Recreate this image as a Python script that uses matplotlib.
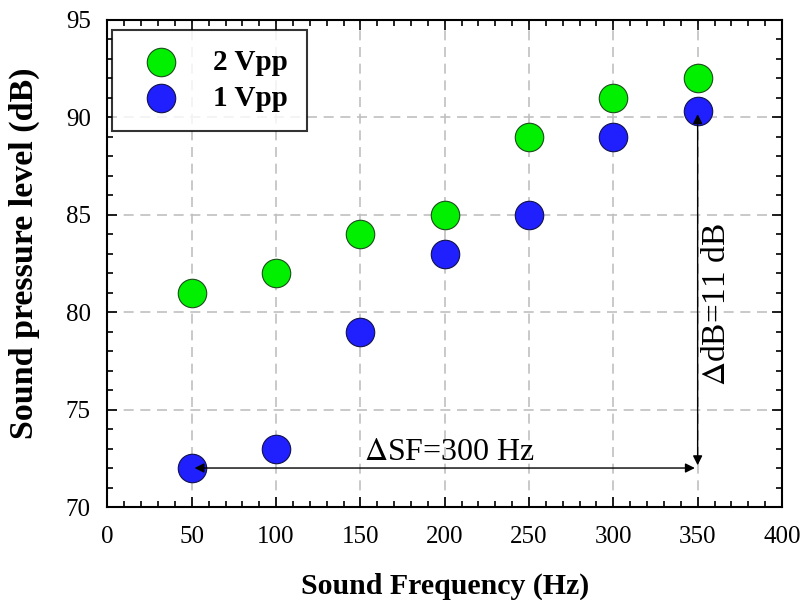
import matplotlib.pyplot as plt
from matplotlib.ticker import MultipleLocator

plt.rcParams['font.family'] = ['Liberation Serif', 'DejaVu Serif']
plt.rcParams['mathtext.fontset'] = 'stix'

# data
freq = [50, 100, 150, 200, 250, 300, 350]
spl_2vpp = [81, 82, 84, 85, 89, 91, 92]
spl_1vpp = [72, 73, 79, 83, 85, 89, 90.3]

fig, ax = plt.subplots(figsize=(8.02, 6), dpi=100)
fig.subplots_adjust(left=0.134, right=0.975, top=0.967, bottom=0.155)

ax.scatter(freq, spl_2vpp, s=420, color='#00f000', edgecolor='#1a4d1a', linewidth=0.8,
           zorder=3, label='2 Vpp')
ax.scatter(freq, spl_1vpp, s=420, color='#2020ff', edgecolor='#10104d', linewidth=0.8,
           zorder=3, label='1 Vpp')

ax.set_xlim(0, 400)
ax.set_ylim(70, 95)
ax.xaxis.set_major_locator(MultipleLocator(50))
ax.xaxis.set_minor_locator(MultipleLocator(10))
ax.yaxis.set_major_locator(MultipleLocator(5))
ax.yaxis.set_minor_locator(MultipleLocator(1))
ax.tick_params(which='both', direction='in', top=True, right=True, width=1.2)
ax.tick_params(which='major', length=7, labelsize=18)
ax.tick_params(which='minor', length=4)
ax.tick_params(axis='x', which='major', pad=14)
ax.tick_params(axis='y', which='major', pad=12)
for sp in ax.spines.values():
    sp.set_linewidth(1.5)

ax.grid(True, which='major', linestyle=(0, (6, 4)), color='#c0c0c0', linewidth=1.2)
ax.set_axisbelow(True)

ax.set_xlabel('Sound Frequency (Hz)', fontsize=21.5, fontweight='bold')
ax.set_ylabel('Sound pressure level (dB)', fontsize=24.5, fontweight='bold')
ax.xaxis.set_label_coords(0.5, -0.134)
ax.yaxis.set_label_coords(-0.1, 0.52)

# annotation arrows
ax.annotate('', xy=(50, 72), xytext=(350, 72),
            arrowprops=dict(arrowstyle='<|-|>', color='black', lw=1, mutation_scale=14),
            zorder=4)
ax.annotate('', xy=(350, 90.3), xytext=(350, 72),
            arrowprops=dict(arrowstyle='<|-|>', color='black', lw=1, mutation_scale=14),
            zorder=4)
ax.text(203, 72.8, '$\\Delta$SF=300 Hz', fontsize=23, ha='center', va='center')
ax.text(361.5, 80.4, '$\\Delta$dB=11 dB', fontsize=24, ha='center', va='center', rotation=90)

leg = ax.legend(loc='upper left', bbox_to_anchor=(0.0074, 0.979),
                prop={'weight': 'bold', 'size': 21},
                frameon=True, fancybox=False, edgecolor='black', borderpad=0.65,
                handletextpad=0.8, labelspacing=0.3, borderaxespad=0)
leg.get_frame().set_linewidth(1.5)

fig.savefig('out.png', dpi=100)
